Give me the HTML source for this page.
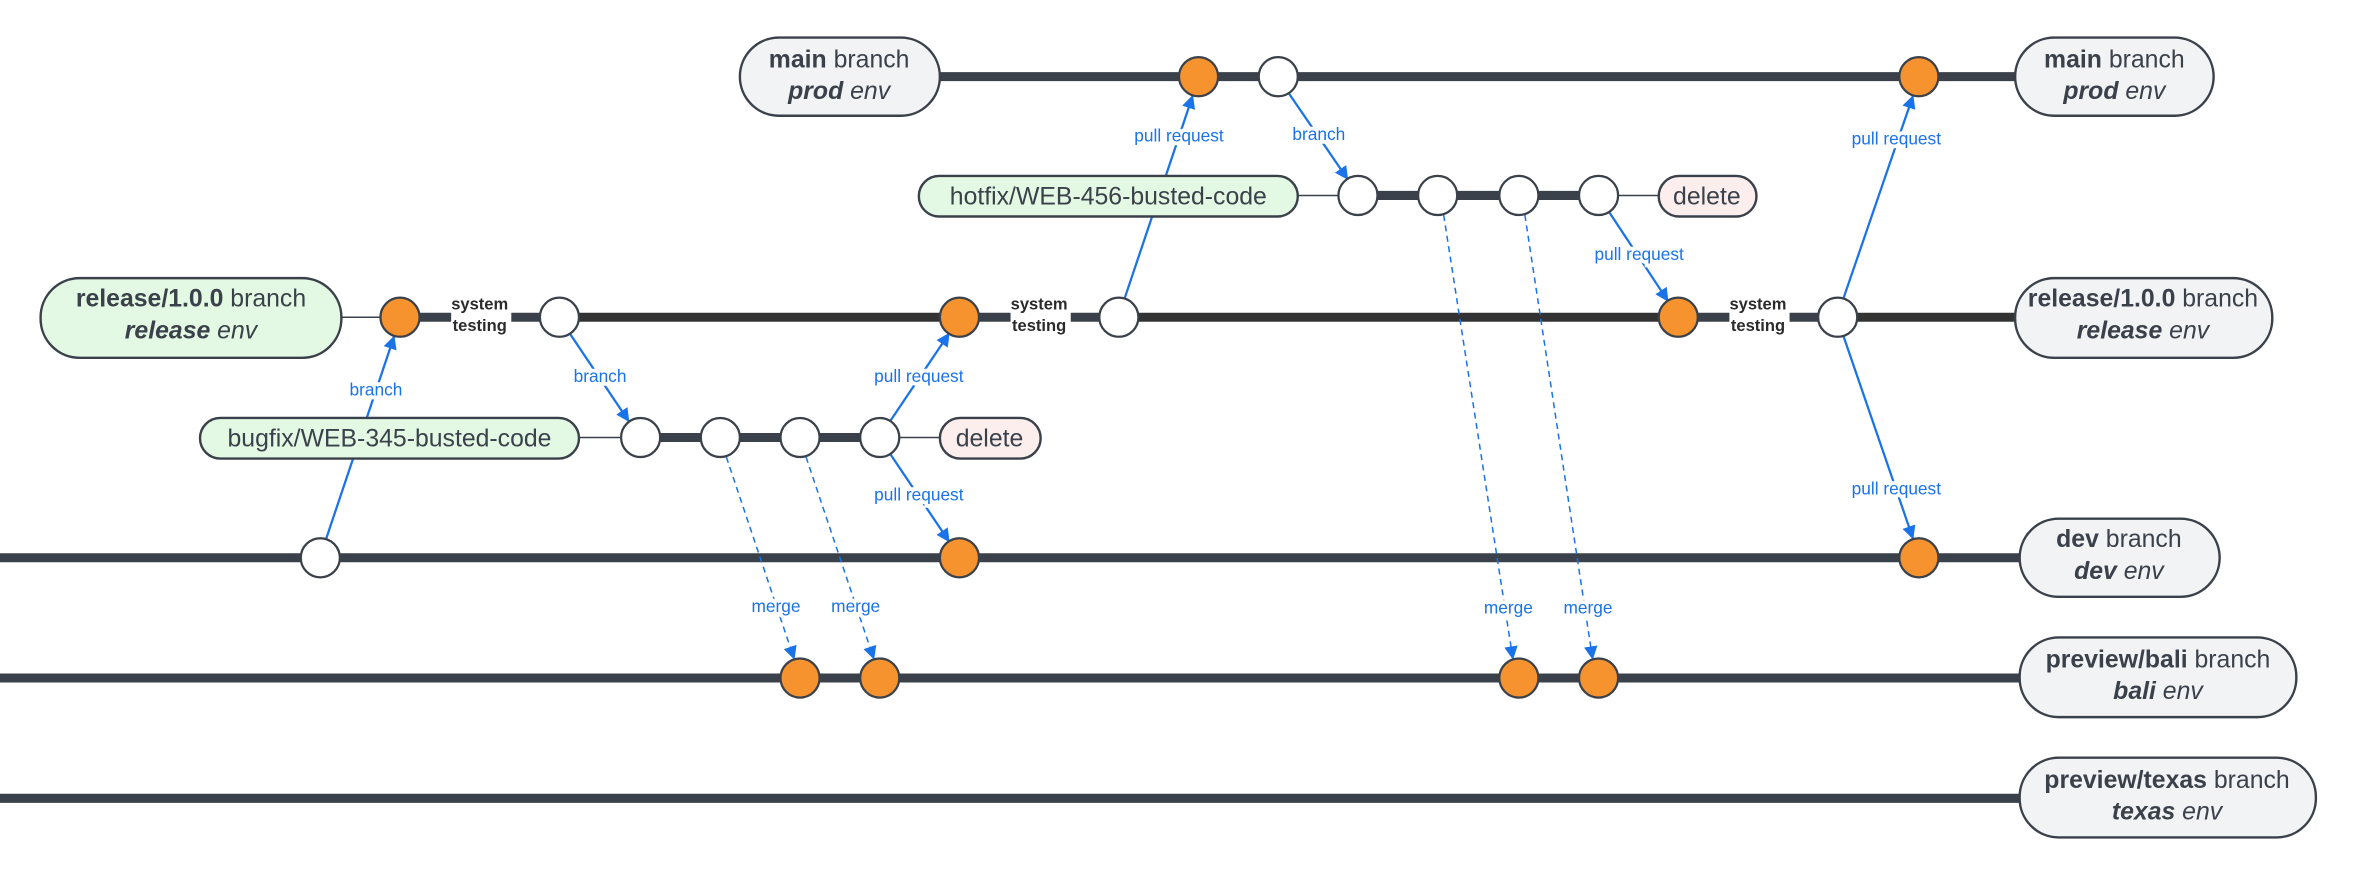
<!DOCTYPE html>
<html><head><meta charset="utf-8"><style>
html,body{margin:0;padding:0;background:#fff;}
svg{display:block;}
.bx{stroke:#3a414a;stroke-width:1.6;}
.t{font-family:"Liberation Sans",sans-serif;fill:#3a414a;font-size:16.5px;}
.l{font-family:"Liberation Sans",sans-serif;fill:#1a73e8;font-size:11.5px;text-anchor:middle;paint-order:stroke;stroke:#fff;stroke-width:5px;}
.st{font-family:"Liberation Sans",sans-serif;fill:#2b2b2b;font-size:11px;font-weight:bold;text-anchor:middle;}
.ln{stroke:#3a414a;stroke-width:6;}
.th{stroke:#3a414a;stroke-width:1;}
.o{fill:#f7932f;stroke:#3a414a;stroke-width:1.5;}
.w{fill:#fff;stroke:#3a414a;stroke-width:1.5;}
.a{stroke:#1a73e8;stroke-width:1.5;fill:none;marker-end:url(#ar);}
.d{stroke:#1a73e8;stroke-width:1;fill:none;stroke-dasharray:4 3;marker-end:url(#ar);}
</style></head><body>
<svg width="2358" height="878" viewBox="0 0 1568 584" preserveAspectRatio="none" xmlns="http://www.w3.org/2000/svg">
<defs><marker id="ar" viewBox="0 0 10 10" refX="9" refY="5" markerWidth="9" markerHeight="9" markerUnits="userSpaceOnUse" orient="auto"><path d="M0,0 L10,5 L0,10 z" fill="#1a73e8"/></marker></defs>

<line class="ln" x1="625" y1="51" x2="1340" y2="51"/>
<line class="th" x1="863" y1="130" x2="903" y2="130"/>
<line class="ln" x1="903" y1="130" x2="1063" y2="130"/>
<line class="th" x1="1063" y1="130" x2="1103" y2="130"/>
<line class="th" x1="227" y1="211" x2="266" y2="211"/>
<line class="ln" x1="266" y1="211" x2="300" y2="211"/>
<line class="ln" x1="340" y1="211" x2="372" y2="211"/>
<line class="ln" x1="372" y1="211" x2="638" y2="211" style="stroke:#333"/>
<line class="ln" x1="638" y1="211" x2="672" y2="211"/>
<line class="ln" x1="712" y1="211" x2="744" y2="211"/>
<line class="ln" x1="744" y1="211" x2="1116" y2="211" style="stroke:#333"/>
<line class="ln" x1="1116" y1="211" x2="1150" y2="211"/>
<line class="ln" x1="1190" y1="211" x2="1222" y2="211"/>
<line class="ln" x1="1222" y1="211" x2="1340" y2="211" style="stroke:#333"/>
<line class="th" x1="385" y1="291" x2="426" y2="291"/>
<line class="ln" x1="426" y1="291" x2="585" y2="291"/>
<line class="th" x1="585" y1="291" x2="625" y2="291"/>
<line class="ln" x1="0" y1="371" x2="1343" y2="371"/>
<line class="ln" x1="0" y1="451" x2="1343" y2="451"/>
<line class="ln" x1="0" y1="531" x2="1343" y2="531"/>

<line class="a" x1="217" y1="358" x2="262" y2="224"/>
<line class="a" x1="379" y1="222" x2="418" y2="280"/>
<line class="a" x1="592" y1="280" x2="631" y2="222"/>
<line class="a" x1="592" y1="302" x2="631" y2="360"/>
<line class="d" x1="483" y1="304" x2="528" y2="438"/>
<line class="d" x1="536" y1="304" x2="581" y2="438"/>
<line class="a" x1="748" y1="198" x2="793" y2="64"/>
<line class="a" x1="857" y1="62" x2="896" y2="119"/>
<line class="a" x1="1070" y1="141" x2="1109" y2="200"/>
<line class="d" x1="960" y1="143" x2="1006" y2="438"/>
<line class="d" x1="1014" y1="143" x2="1059" y2="438"/>
<line class="a" x1="1226" y1="198" x2="1272" y2="64"/>
<line class="a" x1="1226" y1="224" x2="1272" y2="358"/>

<text class="l" x="250" y="263">branch</text>
<text class="l" x="399" y="254">branch</text>
<text class="l" x="611" y="254">pull request</text>
<text class="l" x="611" y="333">pull request</text>
<text class="l" x="516" y="407">merge</text>
<text class="l" x="569" y="407">merge</text>
<text class="l" x="784" y="94">pull request</text>
<text class="l" x="877" y="93">branch</text>
<text class="l" x="1090" y="173">pull request</text>
<text class="l" x="1003" y="408">merge</text>
<text class="l" x="1056" y="408">merge</text>
<text class="l" x="1261" y="96">pull request</text>
<text class="l" x="1261" y="329">pull request</text>

<text class="st" x="319" y="206">system</text><text class="st" x="319" y="220">testing</text>
<text class="st" x="691" y="206">system</text><text class="st" x="691" y="220">testing</text>
<text class="st" x="1169" y="206">system</text><text class="st" x="1169" y="220">testing</text>

<circle class="o" cx="797" cy="51" r="13"/><circle class="w" cx="850" cy="51" r="13"/><circle class="o" cx="1276" cy="51" r="13"/>
<circle class="w" cx="903" cy="130" r="13"/><circle class="w" cx="956" cy="130" r="13"/><circle class="w" cx="1010" cy="130" r="13"/><circle class="w" cx="1063" cy="130" r="13"/>
<circle class="o" cx="266" cy="211" r="13"/><circle class="w" cx="372" cy="211" r="13"/><circle class="o" cx="638" cy="211" r="13"/><circle class="w" cx="744" cy="211" r="13"/><circle class="o" cx="1116" cy="211" r="13"/><circle class="w" cx="1222" cy="211" r="13"/>
<circle class="w" cx="426" cy="291" r="13"/><circle class="w" cx="479" cy="291" r="13"/><circle class="w" cx="532" cy="291" r="13"/><circle class="w" cx="585" cy="291" r="13"/>
<circle class="w" cx="213" cy="371" r="13"/><circle class="o" cx="638" cy="371" r="13"/><circle class="o" cx="1276" cy="371" r="13"/>
<circle class="o" cx="532" cy="451" r="13"/><circle class="o" cx="585" cy="451" r="13"/><circle class="o" cx="1010" cy="451" r="13"/><circle class="o" cx="1063" cy="451" r="13"/>

<rect class="bx" x="492" y="25" width="133" height="52" rx="26" fill="#f2f3f5"/>
<text class="t" x="558" y="45" text-anchor="middle"><tspan font-weight="bold">main</tspan> branch</text>
<text class="t" x="558" y="66" text-anchor="middle"><tspan font-weight="bold" font-style="italic">prod</tspan><tspan font-style="italic"> env</tspan></text>

<rect class="bx" x="1340" y="25" width="132" height="52" rx="26" fill="#f2f3f5"/>
<text class="t" x="1406" y="45" text-anchor="middle"><tspan font-weight="bold">main</tspan> branch</text>
<text class="t" x="1406" y="66" text-anchor="middle"><tspan font-weight="bold" font-style="italic">prod</tspan><tspan font-style="italic"> env</tspan></text>

<rect class="bx" x="611" y="117" width="252" height="27" rx="13.5" fill="#e3f9e3"/>
<text class="t" x="737" y="136" text-anchor="middle">hotfix/WEB-456-busted-code</text>
<rect class="bx" x="1103" y="117" width="65" height="27" rx="13.5" fill="#fdeeee"/>
<text class="t" x="1135" y="136" text-anchor="middle">delete</text>

<rect class="bx" x="27" y="185" width="200" height="53" rx="26" fill="#e3f9e3"/>
<text class="t" x="127" y="204" text-anchor="middle"><tspan font-weight="bold">release/1.0.0</tspan> branch</text>
<text class="t" x="127" y="225" text-anchor="middle"><tspan font-weight="bold" font-style="italic">release</tspan><tspan font-style="italic"> env</tspan></text>

<rect class="bx" x="1340" y="185" width="171" height="53" rx="26" fill="#f2f3f5"/>
<text class="t" x="1425" y="204" text-anchor="middle"><tspan font-weight="bold">release/1.0.0</tspan> branch</text>
<text class="t" x="1425" y="225" text-anchor="middle"><tspan font-weight="bold" font-style="italic">release</tspan><tspan font-style="italic"> env</tspan></text>

<rect class="bx" x="133" y="278" width="252" height="27" rx="13.5" fill="#e3f9e3"/>
<text class="t" x="259" y="297" text-anchor="middle">bugfix/WEB-345-busted-code</text>
<rect class="bx" x="625" y="278" width="67" height="27" rx="13.5" fill="#fdeeee"/>
<text class="t" x="658" y="297" text-anchor="middle">delete</text>

<rect class="bx" x="1343" y="345" width="133" height="52" rx="26" fill="#f2f3f5"/>
<text class="t" x="1409" y="364" text-anchor="middle"><tspan font-weight="bold">dev</tspan> branch</text>
<text class="t" x="1409" y="385" text-anchor="middle"><tspan font-weight="bold" font-style="italic">dev</tspan><tspan font-style="italic"> env</tspan></text>

<rect class="bx" x="1343" y="424" width="184" height="53" rx="26" fill="#f2f3f5"/>
<text class="t" x="1435" y="444" text-anchor="middle"><tspan font-weight="bold">preview/bali</tspan> branch</text>
<text class="t" x="1435" y="465" text-anchor="middle"><tspan font-weight="bold" font-style="italic">bali</tspan><tspan font-style="italic"> env</tspan></text>

<rect class="bx" x="1343" y="504" width="197" height="53" rx="26" fill="#f2f3f5"/>
<text class="t" x="1441" y="524" text-anchor="middle"><tspan font-weight="bold">preview/texas</tspan> branch</text>
<text class="t" x="1441" y="545" text-anchor="middle"><tspan font-weight="bold" font-style="italic">texas</tspan><tspan font-style="italic"> env</tspan></text>
</svg>
</body></html>
